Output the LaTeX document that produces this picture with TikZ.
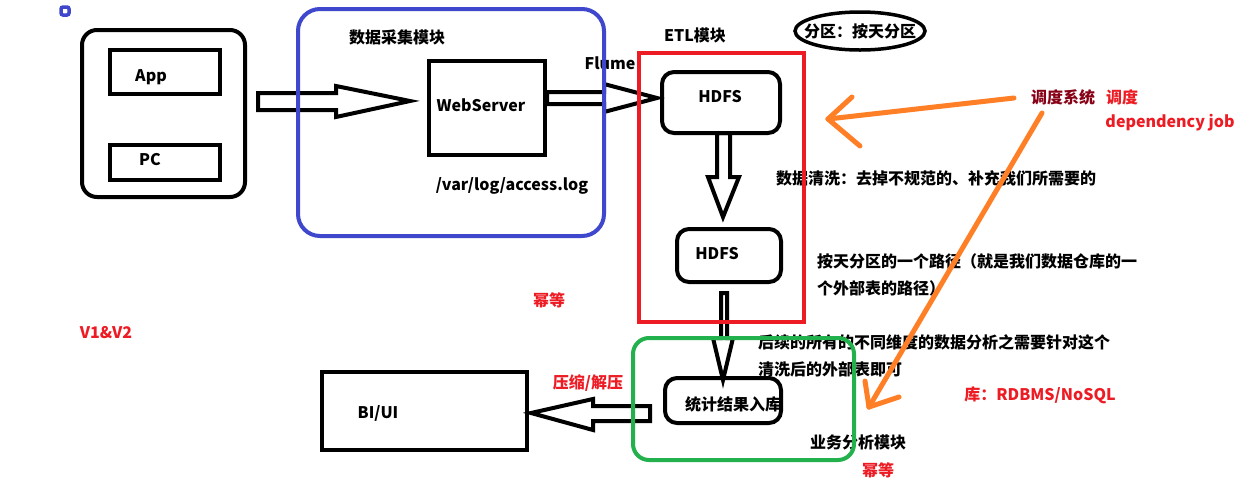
\documentclass[tikz,border=0pt]{standalone}
\usepackage{fontspec}
\setmainfont{Noto Sans CJK SC}
\usetikzlibrary{shapes.geometric,calc}
\definecolor{pblue}{RGB}{63,72,204}
\definecolor{pred}{RGB}{237,28,36}
\definecolor{pgreen}{RGB}{34,177,76}
\definecolor{porange}{RGB}{255,127,39}
\definecolor{pdark}{RGB}{136,0,21}
\tikzset{
  every node/.style={inner sep=0pt, outer sep=0pt, font=\fontsize{16}{19}\selectfont\bfseries},
  txt/.style={anchor=center},
  ltxt/.style={anchor=west},
  rtxt/.style={anchor=center, text=pred},
  sqbox/.style={draw, line width=4pt, rectangle},
  rndbox/.style={draw, line width=4pt, rectangle, rounded corners=#1},
  blockarrow/.style={draw, line width=4pt, line join=miter},
  orangeline/.style={draw=porange, line width=5pt, line cap=round},
}
\begin{document}
\begin{tikzpicture}[x=1pt,y=-1pt]
\useasboundingbox[fill=white] (0,0) rectangle (1251,491);

% ---- texts (drawn first, shapes go over them) ----
\node[txt] (tcollect) at (397,37) {数据采集模块};
\node[txt] (tapp) at (151,77) {App};
\node[txt] (tpc) at (150,160) {PC};
\node[txt] (tweb) at (481,105) {WebServer};
\node[txt] (tlog) at (512,186) {/var/log/access.log};
\node[txt] (tflume) at (610,63) {Flume};
\node[txt] (tetl) at (695,35) {ETL模块};
\node[txt] (tstat) at (733,404) {统计结果入库};
\node[txt] (tbi) at (378,413) {BI/UI};
\node[ltxt] (tclean) at (776,178) {数据清洗：去掉不规范的、补充我们所需要的};
\node[ltxt] (tpath1) at (817,261) {按天分区的一个路径（就是我们数据仓库的一};
\node[ltxt] (tpath2) at (817,288) {个外部表的路径）};
\node[ltxt] (tana1) at (758,342) {后续的所有的不同维度的数据分析之需要针对这个};
\node[ltxt] (tana2) at (758,369) {清洗后的外部表即可};
\node[txt] (tbiz) at (858,442) {业务分析模块};
\node[rtxt] (tmideng1) at (549,300) {幂等};
\node[rtxt] (tmideng2) at (878,470) {幂等};
\node[rtxt] (tver) at (106,333) {V1\&V2};
\node[rtxt] (tzip) at (588,383) {压缩/解压};
\node[rtxt] (tdb) at (1040,395) {库：RDBMS/NoSQL};
\node[txt, text=pdark] (tsys) at (1063,97) {调度系统};
\node[rtxt] (tsched) at (1122,97) {调度};
\node[rtxt] (tdep) at (1170,123) {dependency job};
\node[txt] (part) at (860,31) {分区：按天分区};

% ---- boxes (nodes) ----
\node[rndbox=15pt, minimum width=163, minimum height=167] (dev) at (163.5,113.5) {};
\node[sqbox, minimum width=110, minimum height=44] (app) at (165,72) {};
\node[sqbox, minimum width=110, minimum height=35] (pc) at (165,162.5) {};
\node[sqbox, minimum width=116, minimum height=94] (web) at (487,108) {};
\node[rndbox=12pt, minimum width=118, minimum height=61] (h1) at (721,102.5) {};
\node[txt] (th1) at (720,97) {HDFS};
\node[rndbox=12pt, minimum width=104, minimum height=53] (h2) at (729,255.5) {};
\node[txt] (th2) at (717,254) {HDFS};
\node[rndbox=12pt, minimum width=116, minimum height=45] (stat) at (723,400.5) {};
\node[sqbox, minimum width=205, minimum height=78] (bi) at (424.5,411) {};
\draw[line width=3.5pt] (part.center) ellipse [x radius=65, y radius=19];

% ---- block arrows ----
\coordinate (aT) at ($(dev.east)+(13,-12)$);
\coordinate (aH) at ($(web.west)+(-19,-7)$);
\draw[blockarrow] (aT) -- ++(0,-8.5) -- ++(78,0) -- ++(0,-7) -- (aH) -- ++(-74,16) -- ++(0,-7) -- ++(-78,0) -- cycle;

\coordinate (bT) at ($(web.east)+(2,-10)$);
\coordinate (bH) at ($(h1.west)+(-5,-4.5)$);
\draw[blockarrow] (bT) -- ++(0,-6) -- ++(57,0) -- ++(0,-8) -- (bH) -- ++(-53,14) -- ++(0,-8) -- ++(-57,0) -- cycle;

\coordinate (cT) at ($(h1.south)+(2.5,0)$);
\coordinate (cH) at ($(h2.north)+(-6,-12)$);
\draw[blockarrow] (cT) -- ++(-6.5,0) -- ++(0,44) -- ++(-9,0) -- (cH) -- ++(16,-40) -- ++(-9,0) -- ++(0,-44) -- cycle;

\coordinate (dT) at ($(h2.south)+(-5,11)$);
\coordinate (dH) at ($(stat.north)+(0,2)$);
\draw[blockarrow] (dT) -- ++(-3,0) -- ++(0,45) -- ++(-8,0) -- (dH) -- ++(10,-42) -- ++(-6,0) -- ++(0,-45) -- cycle;

\coordinate (eT) at ($(stat.west)+(-15,13)$);
\coordinate (eH) at ($(bi.east)+(4,2)$);
\draw[blockarrow] (eT) -- ++(0,-7.5) -- ++(-57,0) -- ++(0,-7) -- (eH) -- ++(62,17) -- ++(0,-9) -- ++(57,0) -- cycle;

% ---- coloured module frames ----
\node[draw=pblue, line width=3.5pt, rounded corners=2pt, minimum width=8, minimum height=8] (dot) at (65,11) {};
\node[draw=pblue, line width=4pt, rounded corners=22pt, minimum width=306, minimum height=227] (collect) at (451,122.5) {};
\node[draw=pred, line width=4pt, minimum width=165, minimum height=269] (etl) at (721.5,187) {};
\node[draw=pgreen, line width=4pt, rounded corners=16pt, minimum width=221, minimum height=122] (biz) at (743.5,399) {};

% ---- orange scheduler arrows ----
\coordinate (o1) at (828,119);
\coordinate (o2) at (869,407);
\draw[orangeline] ($(tsys.west)+(-17,1)$) -- (o1);
\draw[orangeline] (o1) -- ++(24,-22);
\draw[orangeline] (o1) -- ++(32,27);
\draw[orangeline] ($(tsys.center)+(-21,16)$) -- (o2);
\draw[orangeline] (o2) -- ++(-4,-26);
\draw[orangeline] (o2) -- ++(30,-10);
\end{tikzpicture}
\end{document}
